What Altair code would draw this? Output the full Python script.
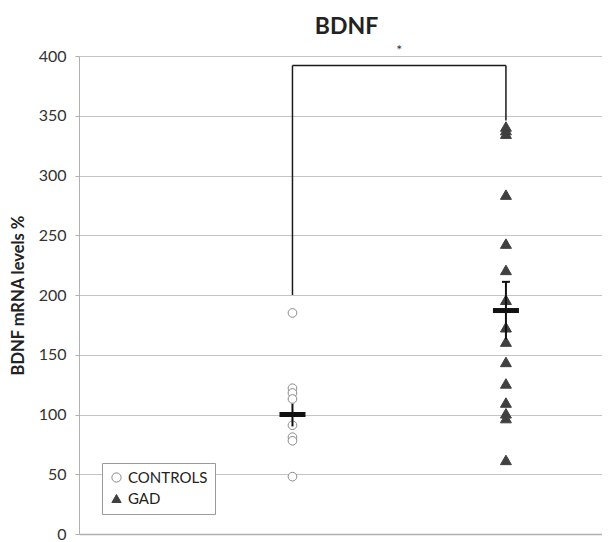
import altair as alt
import pandas as pd

groups = ["CONTROLS", "GAD"]
group_x = [1, 2]
controls = [185, 122, 118, 113, 91, 81, 78, 48]
gad = [341, 338, 335, 284, 243, 221, 196, 173, 161, 144, 126, 110, 101, 97, 62]
means = [100, 187]
sem_low = [90, 163]
sem_high = [109, 211]
y_ticks = [0, 50, 100, 150, 200, 250, 300, 350, 400]

# significance bracket: (x, x2, y, y2)
br_x = [1, 2, 1]
br_x2 = [1, 2, 2]
br_y = [200, 346, 392]
br_y2 = [392, 392, 392]
star_x = [1.5]
star_y = [404]

FONT = "Lato"

points = pd.DataFrame({
    "group": ["CONTROLS"] * len(controls) + ["GAD"] * len(gad),
    "x": [group_x[0]] * len(controls) + [group_x[1]] * len(gad),
    "value": controls + gad,
})
summary = pd.DataFrame({"group": groups, "x": group_x, "mean": means,
                        "low": sem_low, "high": sem_high})
bracket = pd.DataFrame({"x": br_x, "x2": br_x2, "y": br_y, "y2": br_y2})
star = pd.DataFrame({"x": star_x, "y": star_y, "t": ["*"]})

xs = alt.Scale(domain=[0, 2.45], nice=False, zero=False)
ys = alt.Scale(domain=[0, 400], nice=False)

x_axis = alt.Axis(labels=False, ticks=False, grid=False, title=None,
                  domainColor="#b0b0b0", domainWidth=1.5)
y_axis = alt.Axis(values=y_ticks, grid=True, gridColor="#c4c4c4", gridWidth=1,
                  domainColor="#b0b0b0", tickColor="#b0b0b0", tickSize=4,
                  labelFontSize=16, labelFont=FONT, labelColor="#333",
                  labelPadding=9, title="BDNF mRNA levels %", titleFont=FONT,
                  titleFontSize=16.5, titleFontWeight="bold", titleColor="#222",
                  titlePadding=12)

leg = alt.Legend(title=None, orient="none", legendX=23, legendY=407,
                 direction="vertical", fillColor="#ffffff", strokeColor="#9a9a9a",
                 padding=7, labelFont=FONT, labelFontSize=15, labelColor="#222",
                 symbolSize=85, rowPadding=5, symbolStrokeWidth=1)

enc = dict(
    x=alt.X("x:Q", scale=xs, axis=x_axis),
    y=alt.Y("value:Q", scale=ys, axis=y_axis),
    shape=alt.Shape("group:N", scale=alt.Scale(domain=groups, range=["circle", "triangle-up"]),
                    legend=leg),
    fill=alt.Fill("group:N", scale=alt.Scale(domain=groups, range=["#ffffff", "#404040"]),
                  legend=leg),
    stroke=alt.Stroke("group:N", scale=alt.Scale(domain=groups, range=["#8a8a8a", "#404040"]),
                      legend=leg),
)

pts_c = alt.Chart(points).transform_filter(alt.datum.group == "CONTROLS").mark_point(
    filled=True, opacity=1, strokeWidth=1, size=75).encode(**enc)
pts_g = alt.Chart(points).transform_filter(alt.datum.group == "GAD").mark_point(
    filled=True, opacity=1, strokeWidth=1, size=120).encode(**enc)

err = alt.Chart(summary).mark_rule(color="#111", strokeWidth=2).encode(
    x=alt.X("x:Q", scale=xs), y=alt.Y("low:Q", scale=ys), y2="high:Q")

cap = alt.Chart(summary).transform_filter(alt.datum.group == "GAD").mark_tick(
    orient="horizontal", size=8, thickness=2, color="#111", opacity=1).encode(
    x=alt.X("x:Q", scale=xs), y=alt.Y("high:Q", scale=ys))

mean_bar = alt.Chart(summary).mark_tick(
    orient="horizontal", size=26, thickness=5, color="#111", opacity=1).encode(
    x=alt.X("x:Q", scale=xs), y=alt.Y("mean:Q", scale=ys))

br = alt.Chart(bracket).mark_rule(color="#1a1a1a", strokeWidth=1.5).encode(
    x=alt.X("x:Q", scale=xs), x2="x2:Q", y=alt.Y("y:Q", scale=ys), y2="y2:Q")

st = alt.Chart(star).mark_text(fontSize=14, font=FONT, color="#333", baseline="middle").encode(
    x=alt.X("x:Q", scale=xs), y=alt.Y("y:Q", scale=ys), text="t:N")

chart = alt.layer(pts_c, pts_g, err, cap, mean_bar, br, st).properties(
    width=523, height=478,
    title=alt.TitleParams("BDNF", fontSize=23, fontWeight="bold", font=FONT,
                          color="#222", anchor="middle", offset=5, dx=6),
    autosize=alt.AutoSizeParams(type="none"),
    padding={"left": 71, "top": 48, "right": 0, "bottom": 8},
).configure_view(stroke=None)

chart.save("out.html", embed_options={"renderer": "svg", "actions": False})
